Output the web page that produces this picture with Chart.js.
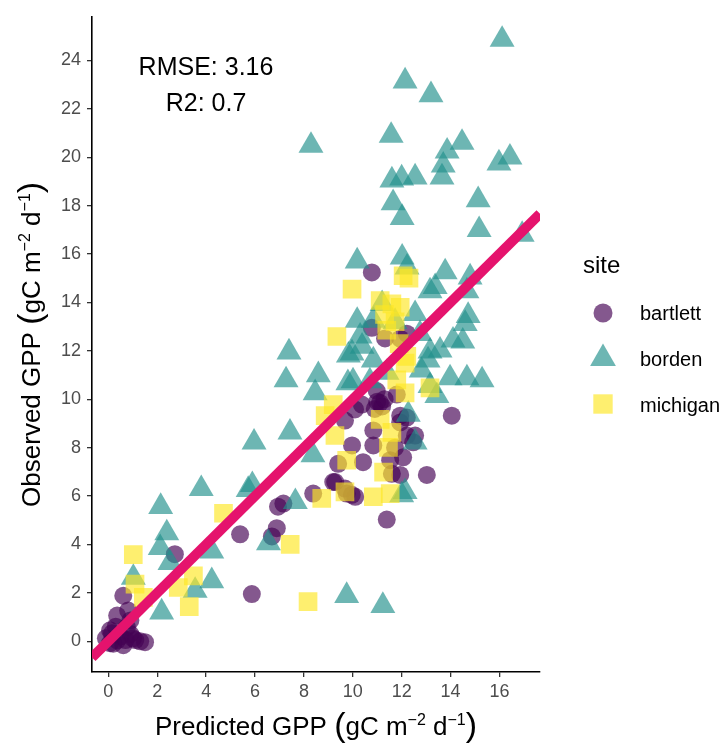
<!DOCTYPE html>
<html><head><meta charset="utf-8">
<script src="https://cdn.jsdelivr.net/npm/chart.js@4.4.0/dist/chart.umd.min.js"></script>
<style>html,body{margin:0;padding:0;background:#fff;}#wrap{width:725px;height:747px;position:relative}</style>
</head><body><div id="wrap"><canvas id="c" width="725" height="747"></canvas></div>
<script>
// ---- data (predicted vs observed GPP) ----
const sites = ['bartlett', 'borden', 'michigan'];
const bartlettPredicted = [0.61,0.36,0.07,0.76,1.01,1.5,0.36,0.61,1.3,0.07,0.9,-0.1,0.81,0.15,0.5,0.9,0.3,1.1,0.7,0.2,
  2.72,5.39,5.87,6.94,6.89,6.69,7.16,
  10.78,10.78,11.32,12.21,11.94,11.11,10.37,10.09,9.68,12.21,11.94,12.55,12.47,10.84,10.84,9.97,9.4,12.06,11.94,13.03,9.2,8.38,14.05,9.75,9.96,11.39,10.98,11.8,11.0,11.2,10.9,11.3,10.42,11.73,11.6,9.68,11.53,10.1,11.94,12.21,9.28];
const bartlettObserved = [1.88,1.06,0.45,0.57,0.12,-0.04,0.04,-0.16,0.0,-0.08,0.86,0.12,1.27,0.33,0.2,0.3,0.6,0.05,0.05,-0.1,
  3.6,4.42,1.95,5.56,4.67,4.33,5.69,
  15.24,12.95,12.51,12.71,12.5,9.85,9.78,9.58,9.12,9.24,9.04,8.5,8.22,8.71,8.09,8.09,7.33,7.6,6.87,6.87,6.58,6.1,9.32,6.1,6.05,5.03,10.34,10.19,9.9,9.7,9.6,10.0,7.4,8.0,6.92,6.31,7.48,5.97,9.32,8.5,6.58];
const bordenPredicted = [16.11,12.14,13.2,8.29,11.57,14.47,13.86,16.43,15.98,13.7,13.65,11.6,12.0,12.55,11.65,15.13,12.02,15.17,16.93,12.02,
  12.22,10.18,13.78,14.8,13.37,13.16,14.67,10.18,10.84,12.55,14.6,14.72,10.38,9.82,10.84,14.1,14.5,13.16,13.57,13.08,
  10.01,10.7,13.98,14.67,15.29,7.39,7.27,8.59,8.46,9.97,9.8,10.3,5.96,7.43,8.37,3.8,5.89,5.72,2.14,2.39,
  2.12,2.52,4.23,1.02,4.23,3.55,2.18,6.55,7.65,12.0,9.75,11.23,12.27,12.55,13.16,13.44,12.14,11.2,11.73,12.75,11.4,12.8];
const bordenObserved = [24.86,23.14,22.57,20.48,20.89,20.6,20.24,19.99,19.75,19.66,19.17,19.05,19.13,19.17,18.11,18.23,17.5,17.0,16.8,15.86,
  15.45,15.7,15.25,15.04,14.64,14.47,14.47,13.25,13.25,13.53,13.12,13.45,12.18,11.81,11.61,12.43,12.39,11.98,12.02,11.61,
  10.75,10.75,10.87,10.87,10.79,11.94,10.79,11.0,10.26,11.9,10.67,12.6,8.22,8.63,7.69,6.3,6.46,6.26,5.56,4.47,
  3.86,3.24,3.72,2.63,2.49,2.09,1.2,4.06,5.76,6.04,1.88,1.47,9.37,8.22,10.55,10.14,6.17,13.94,13.2,12.7,11.1,11.2];
const michiganPredicted = [9.97,12.06,11.12,11.6,11.94,11.39,11.73,9.35,12.21,13.16,11.8,12.14,9.2,8.87,9.27,9.75,9.68,8.73,10.84,11.53,
  11.26,11.46,11.6,11.12,12.14,1.02,4.71,1.09,1.43,2.86,3.48,3.31,7.44,8.17,11.3,11.9,12.3];
const michiganObserved = [14.55,15.1,14.08,13.94,13.8,12.85,13.2,12.59,11.77,10.47,10.8,11.49,9.78,9.32,8.5,7.48,6.17,5.9,5.97,6.1,
  6.99,8.01,8.63,9.17,10.26,3.58,5.29,2.36,1.81,2.22,2.7,1.43,4.0,1.64,13.5,12.3,15.0];
const xTicks = [0,2,4,6,8,10,12,14,16];
const yTicks = [0,2,4,6,8,10,12,14,16,18,20,22,24];
const xLimits = [-0.67, 17.66];
const yLimits = [-1.27, 25.8];
const annotationLines = ['RMSE: 3.16', 'R2: 0.7'];

// ---- styles ----
const FONT = '"Liberation Sans", Arial, Helvetica, sans-serif';
const ALPHA = 0.66;
const siteStyle = {
  bartlett: {color: `rgba(68,1,84,${ALPHA})`, shape: 'circle', r: 9},
  borden:   {color: `rgba(33,144,140,${ALPHA})`, shape: 'triangle', r: 14.4},
  michigan: {color: `rgba(253,231,37,${ALPHA})`, shape: 'rect', r: 13.2}
};
const pts = (xs, ys) => xs.map((x, i) => ({x, y: ys[i]}));
const siteData = {
  bartlett: pts(bartlettPredicted, bartlettObserved),
  borden: pts(bordenPredicted, bordenObserved),
  michigan: pts(michiganPredicted, michiganObserved)
};

const datasets = [{
  type: 'line', label: '1:1',
  data: [{x: xLimits[0], y: xLimits[0]}, {x: xLimits[1], y: xLimits[1]}],
  borderColor: '#E5136D', borderWidth: 10, pointRadius: 0, borderCapStyle: 'butt',
  order: 0, clip: 0
}];
sites.forEach((s, i) => {
  const st = siteStyle[s];
  datasets.push({
    type: 'scatter', label: s, data: siteData[s],
    pointStyle: st.shape, pointRadius: st.r, pointHoverRadius: st.r,
    backgroundColor: st.color, pointBackgroundColor: st.color,
    borderWidth: 0, pointBorderWidth: 0, borderColor: 'rgba(0,0,0,0)',
    order: 3 - i
  });
});

function drawRich(ctx, parts, cx, baseY) {
  let total = 0;
  const ws = parts.map(p => { ctx.font = `${p.s}px ${FONT}`; const w = ctx.measureText(p.t).width; total += w; return w; });
  let x = cx - total / 2;
  ctx.textAlign = 'left'; ctx.textBaseline = 'alphabetic';
  parts.forEach((p, i) => { ctx.font = `${p.s}px ${FONT}`; ctx.fillText(p.t, x, baseY + (p.dy || 0)); x += ws[i]; });
}
const titleParts = (lead) => [
  {t: lead + ' ', s: 26}, {t: '(', s: 34, dy: 1}, {t: 'gC m', s: 26}, {t: '\u22122', s: 16, dy: -10},
  {t: ' d', s: 26}, {t: '\u22121', s: 16, dy: -10}, {t: ')', s: 34, dy: 1}
];

const extras = {
  id: 'extras',
  afterDraw(chart) {
    const ctx = chart.ctx;
    const ca = chart.chartArea;
    ctx.save();
    ctx.fillStyle = '#000';
    ctx.textAlign = 'center'; ctx.textBaseline = 'alphabetic';
    ctx.font = `25px ${FONT}`;
    ctx.fillText(annotationLines[0], 206, 75);
    ctx.fillText(annotationLines[1], 206, 111);
    drawRich(ctx, titleParts('Predicted GPP'), (ca.left + ca.right) / 2, 735);
    ctx.save();
    ctx.translate(40, (ca.top + ca.bottom) / 2);
    ctx.rotate(-Math.PI / 2);
    drawRich(ctx, titleParts('Observed GPP'), 0, 0);
    ctx.restore();
    // legend
    ctx.font = `24px ${FONT}`; ctx.textAlign = 'left';
    ctx.fillText('site', 583, 273);
    const rows = [313, 358.5, 404];
    const labY = [320, 366, 412];
    sites.forEach((s, i) => {
      const st = siteStyle[s];
      ctx.fillStyle = st.color;
      Chart.helpers.drawPoint(ctx, {pointStyle: st.shape, radius: st.r + 0.5, rotation: 0, borderWidth: 0}, 603, rows[i]);
      ctx.fillStyle = '#000';
      ctx.font = `20px ${FONT}`;
      ctx.fillText(s, 640, labY[i]);
    });
    ctx.restore();
  }
};

const axisCommon = (ticksArr) => ({
  type: 'linear',
  grid: {display: true, drawOnChartArea: false, drawTicks: true, tickLength: 5, color: '#333333', lineWidth: 1.3},
  border: {display: true, color: '#000', width: 1.6},
  ticks: {color: '#4D4D4D', font: {size: 18, family: FONT}, autoSkip: false, maxRotation: 0},
  afterBuildTicks: (scale) => { scale.ticks = ticksArr.map(v => ({value: v})); }
});

const xAxis = axisCommon(xTicks);
xAxis.min = xLimits[0]; xAxis.max = xLimits[1];
xAxis.ticks.padding = 4;
xAxis.afterFit = (s) => { s.height = 75; };
const yAxis = axisCommon(yTicks);
yAxis.min = yLimits[0]; yAxis.max = yLimits[1];
yAxis.ticks.padding = 6;
yAxis.afterFit = (s) => { s.width = 92; };

new Chart(document.getElementById('c'), {
  data: {datasets},
  options: {
    responsive: false, animation: false, devicePixelRatio: 1,
    layout: {padding: {left: 0, right: 185, top: 10, bottom: 0}},
    plugins: {legend: {display: false}, tooltip: {enabled: false}},
    events: [],
    scales: {x: xAxis, y: yAxis}
  },
  plugins: [extras]
});
</script></body></html>
